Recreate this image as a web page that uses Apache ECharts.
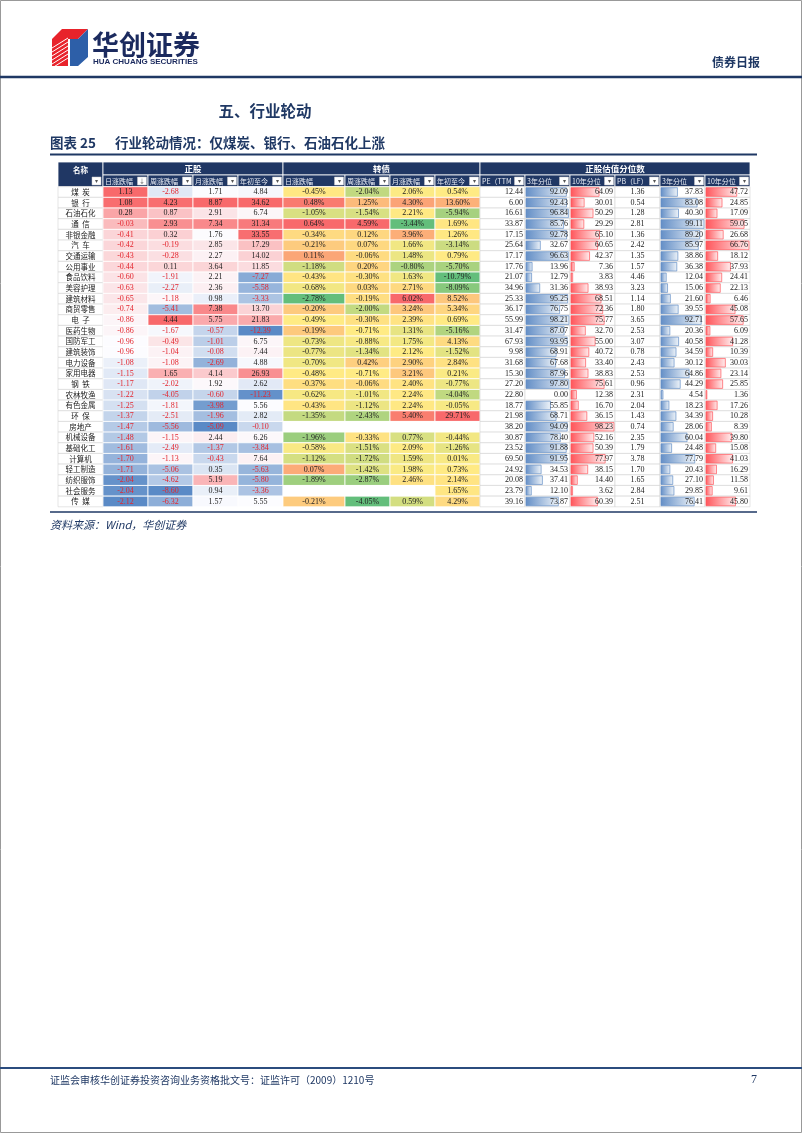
<!DOCTYPE html>
<html>
<head>
<meta charset="utf-8">
<title>行业轮动</title>
<script src="https://cdn.jsdelivr.net/npm/echarts/dist/echarts.min.js"></script>
<style>
html, body { margin: 0; padding: 0; background: #fff; }
#chart { width: 802px; height: 1133px; }
</style>
</head>
<body>
<div id="chart"></div>
<script>
// 行业名称
const industries = ['煤炭', '银行', '石油石化', '通信', '非银金融', '汽车', '交通运输', '公用事业', '食品饮料', '美容护理',
    '建筑材料', '商贸零售', '电子', '医药生物', '国防军工', '建筑装饰', '电力设备', '家用电器', '钢铁', '农林牧渔',
    '有色金属', '环保', '房地产', '机械设备', '基础化工', '计算机', '轻工制造', '纺织服饰', '社会服务', '传媒'];

// 正股涨跌幅(%)
const stockDay = [1.13, 1.08, 0.28, -0.03, -0.41, -0.42, -0.43, -0.44, -0.60, -0.63, -0.65, -0.74, -0.86, -0.86, -0.96,
    -0.96, -1.08, -1.15, -1.17, -1.22, -1.25, -1.37, -1.47, -1.48, -1.61, -1.70, -1.71, -2.04, -2.04, -2.12];
const stockWeek = [-2.68, 4.23, 0.87, 2.93, 0.32, -0.19, -0.28, 0.11, -1.91, -2.27, -1.18, -5.41, 4.44, -1.67, -0.49,
    -1.04, -1.08, 1.65, -2.02, -4.05, -1.81, -2.51, -5.56, -1.15, -2.49, -1.13, -5.06, -4.62, -8.60, -6.32];
const stockMonth = [1.71, 8.87, 2.91, 7.34, 1.76, 2.85, 2.27, 3.64, 2.21, 2.36, 0.98, 7.38, 5.75, -0.57, -1.01,
    -0.08, -2.69, 4.14, 1.92, -0.60, -3.98, -1.96, -5.09, 2.44, -1.37, -0.43, 0.35, 5.19, 0.94, 1.57];
const stockYtd = [4.84, 34.62, 6.74, 31.34, 33.55, 17.29, 14.02, 11.85, -7.27, -5.58, -3.33, 13.70, 21.83, -12.39, 6.75,
    7.44, 4.88, 26.93, 2.62, -11.23, 5.56, 2.82, -0.10, 6.26, -3.84, 7.64, -5.63, -5.80, -3.36, 5.55];

// 转债涨跌幅(%)，null 为空
const cbDay = [-0.45, 0.48, -1.05, 0.64, -0.34, -0.21, 0.11, -1.18, -0.43, -0.68, -2.78, -0.20, -0.49, -0.19, -0.73,
    -0.77, -0.70, -0.48, -0.37, -0.62, -0.43, -1.35, null, -1.96, -0.58, -1.12, 0.07, -1.89, null, -0.21];
const cbWeek = [-2.04, 1.25, -1.54, 4.59, 0.12, 0.07, -0.06, 0.20, -0.30, 0.03, -0.19, -2.00, -0.30, -0.71, -0.88,
    -1.34, 0.42, -0.71, -0.06, -1.01, -1.12, -2.43, null, -0.33, -1.51, -1.72, -1.42, -2.87, null, -4.05];
const cbMonth = [2.06, 4.30, 2.21, -3.44, 3.96, 1.66, 1.48, -0.80, 1.63, 2.71, 6.02, 3.24, 2.39, 1.31, 1.75,
    2.12, 2.90, 3.21, 2.40, 2.24, 2.24, 5.40, null, 0.77, 2.09, 1.59, 1.98, 2.46, null, 0.59];
const cbYtd = [0.54, 13.60, -5.94, 1.69, 1.26, -3.14, 0.79, -5.70, -10.79, -8.09, 8.52, 5.34, 0.69, -5.16, 4.13,
    -1.52, 2.84, 0.21, -0.77, -4.04, -0.05, 29.71, null, -0.44, -1.26, 0.01, 0.73, 2.14, 1.65, 4.29];

// 正股估值分位数
const pe = [12.44, 6.00, 16.61, 33.87, 17.15, 25.64, 17.17, 17.76, 21.07, 34.96, 25.33, 36.17, 55.99, 31.47, 67.93,
    9.98, 31.68, 15.30, 27.20, 22.80, 18.77, 21.98, 38.20, 30.87, 23.52, 69.50, 24.92, 20.08, 23.79, 39.16];
const pe3y = [92.09, 92.43, 96.84, 85.76, 92.78, 32.67, 96.63, 13.96, 12.79, 31.36, 95.25, 76.75, 98.21, 87.07, 93.95,
    68.91, 67.68, 87.96, 97.80, 0.00, 55.85, 68.71, 94.09, 78.40, 91.88, 91.95, 34.53, 37.41, 12.10, 73.87];
const pe10y = [64.09, 30.01, 50.29, 29.29, 65.10, 60.65, 42.37, 7.36, 3.83, 38.93, 68.51, 72.36, 75.77, 32.70, 55.00,
    40.72, 33.40, 38.83, 75.61, 12.38, 16.70, 36.15, 98.23, 52.16, 50.39, 77.97, 38.15, 14.40, 3.62, 60.39];
const pb = [1.36, 0.54, 1.28, 2.81, 1.36, 2.42, 1.35, 1.57, 4.46, 3.23, 1.14, 1.80, 3.65, 2.53, 3.07,
    0.78, 2.43, 2.53, 0.96, 2.31, 2.04, 1.43, 0.74, 2.35, 1.79, 3.78, 1.70, 1.65, 2.84, 2.51];
const pb3y = [37.83, 83.08, 40.30, 99.11, 89.20, 85.97, 38.86, 36.38, 12.04, 15.06, 21.60, 39.55, 92.71, 20.36, 40.58,
    34.59, 30.12, 64.86, 44.29, 4.54, 18.23, 34.39, 28.06, 60.04, 24.48, 77.79, 20.43, 27.10, 29.85, 76.41];
const pb10y = [47.72, 24.85, 17.09, 59.05, 26.68, 66.76, 18.12, 37.93, 24.41, 22.13, 6.46, 45.08, 57.65, 6.09, 41.28,
    10.39, 30.03, 23.14, 25.85, 1.36, 17.26, 10.28, 8.39, 39.80, 15.08, 41.03, 16.29, 11.58, 9.61, 45.80];

// 表头
const groupHeads = ['正股', '转债', '正股估值分位数'];
const subHeads = ['日涨跌幅', '周涨跌幅', '月涨跌幅', '年初至今涨跌幅', '日涨跌幅', '周涨跌幅', '月涨跌幅', '年初至今涨跌幅',
    'PE（TTM）', '3年分位', '10年分位', 'PB（LF）', '3年分位', '10年分位'];

const NAVY = '#1F3864';
const HEAD_BG = '#203764';
const NUM = '"Liberation Serif", "Times New Roman", serif';
const CJK = '"Noto Sans CJK SC", sans-serif';

// 表格布局
const colW = [45, 45, 45, 45, 45, 62, 45, 45, 45, 45, 45, 45, 45, 45, 45];
const colX = [];
let acc = 0;
colW.forEach(w => { colX.push(acc); acc += w; });
const tableW = acc;
const tLeft = 58, tTop = 186.7, rowH = 10.67;
const bodyH = rowH * industries.length;

const columns = [
    {values: industries, kind: 'name'},
    {values: stockDay, kind: 'rwb'},
    {values: stockWeek, kind: 'rwb'},
    {values: stockMonth, kind: 'rwb'},
    {values: stockYtd, kind: 'rwb'},
    {values: cbDay, kind: 'gyr'},
    {values: cbWeek, kind: 'gyr'},
    {values: cbMonth, kind: 'gyr'},
    {values: cbYtd, kind: 'gyr'},
    {values: pe, kind: 'right'},
    {values: pe3y, kind: 'barB'},
    {values: pe10y, kind: 'barR'},
    {values: pb, kind: 'center'},
    {values: pb3y, kind: 'barB'},
    {values: pb10y, kind: 'barR'}
];

function hex(c) {
    return [parseInt(c.slice(1, 3), 16), parseInt(c.slice(3, 5), 16), parseInt(c.slice(5, 7), 16)];
}
function mix(a, b, t) {
    t = Math.max(0, Math.min(1, t));
    const A = hex(a), B = hex(b);
    return 'rgb(' + A.map((x, i) => Math.round(x + (B[i] - x) * t)).join(',') + ')';
}
// excel 三色刻度: 最小值 / 50%分位 / 最大值
function scale3(arr, cMin, cMid, cMax) {
    const vals = arr.filter(v => v != null).slice().sort((a, b) => a - b);
    const n = vals.length, lo = vals[0], hi = vals[n - 1];
    const mid = n % 2 ? vals[(n - 1) / 2] : (vals[n / 2 - 1] + vals[n / 2]) / 2;
    return v => v <= mid ? mix(cMin, cMid, (v - lo) / (mid - lo || 1)) : mix(cMid, cMax, (v - mid) / (hi - mid || 1));
}

function txt(x, y, text, align, color, font) {
    return {
        type: 'text',
        style: {x: x, y: y, text: text, fill: color, font: font,
            align: align, verticalAlign: 'middle', textAlign: align, textVerticalAlign: 'middle'}
    };
}

const series = columns.map((col, c) => {
    let color = null, barMax = 1;
    if (col.kind === 'rwb') color = scale3(col.values, '#5A8AC6', '#FCFCFF', '#F8696B');
    if (col.kind === 'gyr') color = scale3(col.values, '#63BE7B', '#FFEB84', '#F8696B');
    if (col.kind === 'barB' || col.kind === 'barR') barMax = Math.max.apply(null, col.values);
    return {
        type: 'custom',
        clip: false,
        silent: true,
        encode: {x: 0, y: 1},
        data: col.values.map((v, i) => [colX[c], i, col.kind === 'name' ? 0 : (v == null ? NaN : v)]),
        renderItem(params, api) {
            const i = params.dataIndex;
            const tl = api.coord([colX[c], i]);
            const br = api.coord([colX[c] + colW[c], i + 1]);
            const x = tl[0], y = tl[1], w = br[0] - tl[0], h = br[1] - tl[1];
            const cy = y + h / 2;
            const kids = [];
            if (col.kind === 'name') {
                kids.push({type: 'rect', shape: {x, y, width: w, height: h}, style: {fill: '#fff', stroke: '#D4D4D4', lineWidth: 0.6}});
                const name = col.values[i];
                const label = name.length === 2 ? name[0] + '\u2002' + name[1] : name;
                kids.push(txt(x + w / 2, cy, label, 'center', '#222', '7.5px ' + CJK));
                return {type: 'group', children: kids};
            }
            const v = api.value(2);
            const empty = isNaN(v);
            if (col.kind === 'rwb' || col.kind === 'gyr') {
                kids.push({type: 'rect', shape: {x, y, width: w, height: h},
                    style: {fill: empty ? '#fff' : color(v), stroke: '#fff', lineWidth: 0.8}});
                if (!empty) {
                    const s = col.kind === 'gyr' ? v.toFixed(2) + '%' : v.toFixed(2);
                    const fc = col.kind === 'rwb' && v < 0 ? '#E3262E' : '#222';
                    kids.push(txt(x + w / 2, cy, s, 'center', fc, '8px ' + NUM));
                }
            } else {
                kids.push({type: 'rect', shape: {x, y, width: w, height: h}, style: {fill: '#fff', stroke: '#D4D4D4', lineWidth: 0.6}});
                if (col.kind === 'barB' || col.kind === 'barR') {
                    const base = col.kind === 'barB' ? '#638EC6' : '#FF555A';
                    const bw = (w - 2) * v / barMax;
                    if (bw > 0.3) {
                        kids.push({type: 'rect', shape: {x: x + 1, y: y + 1, width: bw, height: h - 2},
                            style: {
                                fill: new echarts.graphic.LinearGradient(0, 0, 1, 0, [
                                    {offset: 0, color: base}, {offset: 1, color: mix(base, '#FFFFFF', 0.9)}
                                ]),
                                stroke: base, lineWidth: 0.7
                            }});
                    }
                    kids.push(txt(x + w - 2, cy, v.toFixed(2), 'right', '#222', '8px ' + NUM));
                } else if (col.kind === 'right') {
                    kids.push(txt(x + w - 2, cy, v.toFixed(2), 'right', '#222', '8px ' + NUM));
                } else {
                    kids.push(txt(x + w / 2, cy, v.toFixed(2), 'center', '#222', '8px ' + NUM));
                }
            }
            return {type: 'group', children: kids};
        }
    };
});

// 表头(装饰)
const h1 = 13, h2 = 11.7;
const headTop = tTop - h1 - h2;
const header = [];
header.push({type: 'rect', shape: {x: tLeft, y: headTop, width: colW[0], height: h1 + h2},
    style: {fill: HEAD_BG, stroke: '#fff', lineWidth: 0.8}});
header.push({type: 'text', style: {x: tLeft + colW[0] / 2, y: headTop + 8, text: '名称', fill: '#fff',
    font: 'bold 7.5px ' + CJK, align: 'center', verticalAlign: 'middle'}});
function button(bx, by, glyph) {
    header.push({type: 'rect', shape: {x: bx, y: by, width: 9, height: 8}, style: {fill: '#fff', stroke: '#C8C8C8', lineWidth: 0.5}});
    header.push({type: 'text', style: {x: bx + 4.5, y: by + 4.2, text: glyph, fill: '#555',
        font: '6px ' + CJK, align: 'center', verticalAlign: 'middle'}});
}
button(tLeft + colW[0] - 11, headTop + h1 + 2, '▾');
const groups = [[1, 4], [5, 8], [9, 14]];
groups.forEach((g, k) => {
    const gx = tLeft + colX[g[0]];
    const gw = colX[g[1]] + colW[g[1]] - colX[g[0]];
    header.push({type: 'rect', shape: {x: gx, y: headTop, width: gw, height: h1}, style: {fill: HEAD_BG, stroke: '#fff', lineWidth: 0.8}});
    header.push({type: 'text', style: {x: gx + gw / 2, y: headTop + h1 / 2 + 0.5, text: groupHeads[k], fill: '#fff',
        font: 'bold 8.5px ' + CJK, align: 'center', verticalAlign: 'middle'}});
});
subHeads.forEach((s, k) => {
    const c = k + 1;
    const sx = tLeft + colX[c];
    header.push({type: 'rect', shape: {x: sx, y: headTop + h1, width: colW[c], height: h2},
        style: {fill: HEAD_BG, stroke: '#fff', lineWidth: 0.8}});
    header.push({type: 'text', style: {x: sx + 2, y: headTop + h1 + h2 / 2 + 0.5, text: s, fill: '#E8ECF4',
        font: '7px ' + CJK, align: 'left', verticalAlign: 'middle',
        width: colW[c] - 12, overflow: 'truncate', ellipsis: ''}});
    button(sx + colW[c] - 10.5, headTop + h1 + 2, c === 1 ? '↓' : '▾');
});

// 页面装饰
const page = [
    {type: 'rect', shape: {x: 0.5, y: 0.5, width: 801, height: 1132}, style: {fill: 'none', stroke: '#999', lineWidth: 1}},
    // logo
    {type: 'polygon', shape: {points: [[52, 39], [62, 29], [88, 29], [78, 39]]}, style: {fill: '#E8232B'}},
    {type: 'polygon', shape: {points: [[52, 39], [68, 39], [68, 66], [52, 66]]}, style: {fill: '#E8232B'}},
    {type: 'polygon', shape: {points: [[70, 39], [78, 39], [88, 29], [88, 57], [78, 66], [70, 66]]}, style: {fill: '#2D5FA8'}},
    {type: 'text', style: {x: 92, y: 45, text: '华创证券', fill: '#1B2A5E', font: 'bold 27px ' + CJK, verticalAlign: 'middle'}},
    {type: 'text', style: {x: 93, y: 62, text: 'HUA CHUANG SECURITIES', fill: '#1B2A5E', font: 'bold 8px "Liberation Sans", Arial, sans-serif', verticalAlign: 'middle'}},
    {type: 'text', style: {x: 760, y: 62, text: '债券日报', fill: NAVY, font: 'bold 12px ' + CJK, align: 'right', verticalAlign: 'middle'}},
    {type: 'line', shape: {x1: 0, y1: 77, x2: 802, y2: 77}, style: {stroke: NAVY, lineWidth: 2.5}},
    {type: 'text', style: {x: 265, y: 111, text: '五、行业轮动', fill: NAVY, font: 'bold 15.5px ' + CJK, align: 'center', verticalAlign: 'middle'}},
    {type: 'text', style: {x: 50, y: 143, text: '图表 25', fill: NAVY, font: 'bold 13.5px ' + CJK, verticalAlign: 'middle'}},
    {type: 'text', style: {x: 115, y: 143, text: '行业轮动情况：仅煤炭、银行、石油石化上涨', fill: NAVY, font: 'bold 13.5px ' + CJK, verticalAlign: 'middle'}},
    {type: 'line', shape: {x1: 50, y1: 154.5, x2: 757, y2: 154.5}, style: {stroke: NAVY, lineWidth: 2}},
    {type: 'line', shape: {x1: 50, y1: 512, x2: 757, y2: 512}, style: {stroke: NAVY, lineWidth: 1.5}},
    {type: 'text', style: {x: 50, y: 525, text: '资料来源：Wind，华创证券', fill: NAVY, font: 'italic 11px ' + CJK, verticalAlign: 'middle'}},
    {type: 'line', shape: {x1: 0, y1: 1068, x2: 802, y2: 1068}, style: {stroke: '#2B4C7E', lineWidth: 2}},
    {type: 'text', style: {x: 50, y: 1080, text: '证监会审核华创证券投资咨询业务资格批文号：证监许可（2009）1210号', fill: NAVY, font: '10px ' + CJK, verticalAlign: 'middle'}},
    {type: 'text', style: {x: 757, y: 1080, text: '7', fill: NAVY, font: '12px ' + NUM, align: 'right', verticalAlign: 'middle'}}
];
// logo 白色斜纹
for (let k = 0; k < 6; k++) {
    page.push({type: 'line', shape: {x1: 52, y1: 48 + k * 4, x2: 68, y2: 38 + k * 4}, style: {stroke: '#fff', lineWidth: 1}});
}

const chart = echarts.init(document.getElementById('chart'));
chart.setOption({
    animation: false,
    backgroundColor: '#fff',
    grid: {left: tLeft, top: tTop, width: tableW, height: bodyH},
    xAxis: {type: 'value', min: 0, max: tableW, show: false},
    yAxis: {type: 'value', min: 0, max: industries.length, inverse: true, show: false},
    series: series,
    graphic: page.concat(header)
});
</script>
</body>
</html>
